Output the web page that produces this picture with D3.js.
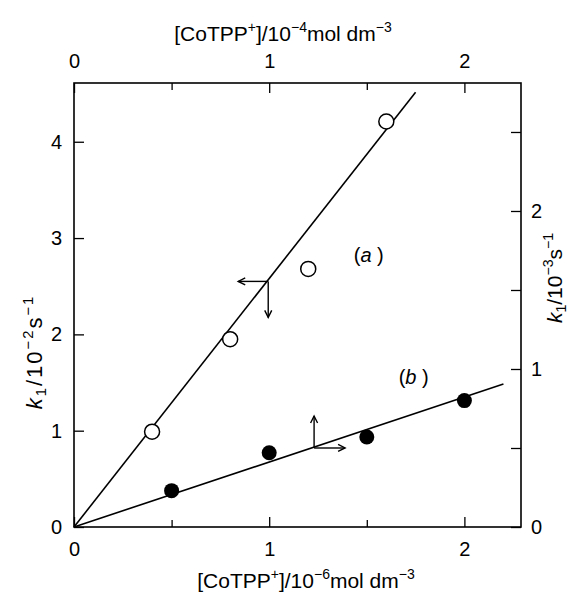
<!DOCTYPE html>
<html>
<head>
<meta charset="utf-8">
<script src="https://cdn.jsdelivr.net/npm/d3@7"></script>
<style>
  body { margin: 0; background: #fff; }
  svg text { font-family: "Liberation Sans", Arial, Helvetica, sans-serif; fill: #000; }
</style>
</head>
<body>
<svg id="chart" width="576" height="593"></svg>
<script>
// ---- data ----
// series (a): open circles, bottom axis (10^-6 mol dm^-3) vs left axis (10^-2 s^-1)
var concA = [0.4, 0.8, 1.2, 1.6];
var k1A = [0.99, 1.95, 2.68, 4.21];
// series (b): filled circles, top axis (10^-4 mol dm^-3) vs right axis (10^-3 s^-1)
var concB = [0.5, 1.0, 1.5, 2.0];
var k1B = [0.23, 0.47, 0.57, 0.80];
// fitted straight lines through the origin
var fitA = [[0, 0], [1.75, 4.515]];
var fitB = [[0, 0], [2.2, 0.905]];

var xTicks = [0, 0.5, 1, 1.5, 2];
var xLabels = [0, 1, 2];
var yLeftTicks = [0, 1, 2, 3, 4];
var yRightTicks = [0, 0.5, 1, 1.5, 2, 2.5];
var yRightLabels = [0, 1, 2];

// arrow corners (which axes each series belongs to)
var arrowA = [0.995, 2.55];  // bottom / left units
var arrowB = [1.23, 0.5];    // top / right units

/* ---- layout ---- */
var margin = { top: 83, right: 55, bottom: 66, left: 74 };
var W = 576, H = 593;
var w = W - margin.left - margin.right;
var h = H - margin.top - margin.bottom;

var svg = d3.select("#chart");
var g = svg.append("g").attr("transform", "translate(" + margin.left + "," + margin.top + ")");

var xBottom = d3.scaleLinear().domain([0, 2.29]).range([0, w]);
var xTop = d3.scaleLinear().domain([0, 2.29]).range([0, w]);
var yLeft = d3.scaleLinear().domain([0, 4.61]).range([h, 0]);
var yRight = d3.scaleLinear().domain([0, 2.81]).range([h, 0]);

function fmtX(d) { return xLabels.indexOf(d) >= 0 ? d : ""; }
function fmtR(d) { return yRightLabels.indexOf(d) >= 0 ? d : ""; }

function styleAxis(sel, minorLen) {
  sel.select(".domain").remove();
  sel.selectAll("line").attr("stroke", "#000").attr("stroke-width", 1.3);
  sel.selectAll("text").attr("font-size", 20).attr("fill", "#000");
  if (minorLen) {
    sel.selectAll(".tick").filter(function(d) { return d % 1 !== 0; })
      .select("line").each(function() {
        var l = d3.select(this);
        if (l.attr("y2") !== null && +l.attr("y2") !== 0) l.attr("y2", +l.attr("y2") > 0 ? minorLen : -minorLen);
      });
  }
}

g.append("g").attr("transform", "translate(0," + h + ")")
  .call(d3.axisBottom(xBottom).tickValues(xTicks).tickFormat(fmtX).tickSize(-10).tickPadding(15))
  .call(styleAxis, 7);

g.append("g")
  .call(d3.axisTop(xTop).tickValues(xTicks).tickFormat(fmtX).tickSize(-10).tickPadding(15))
  .call(styleAxis, 7);

g.append("g")
  .call(d3.axisLeft(yLeft).tickValues(yLeftTicks).tickFormat(d3.format("d")).tickSize(-10).tickPadding(12))
  .call(styleAxis);

g.append("g").attr("transform", "translate(" + w + ",0)")
  .call(d3.axisRight(yRight).tickValues(yRightTicks).tickFormat(fmtR).tickSize(-10).tickPadding(10))
  .call(styleAxis);

// frame
g.append("rect")
  .attr("width", w).attr("height", h)
  .attr("fill", "none").attr("stroke", "#000").attr("stroke-width", 1.6);

// fitted lines
var lineA = d3.line().x(function(d) { return xBottom(d[0]); }).y(function(d) { return yLeft(d[1]); });
var lineB = d3.line().x(function(d) { return xTop(d[0]); }).y(function(d) { return yRight(d[1]); });

g.append("path").attr("d", lineA(fitA)).attr("fill", "none").attr("stroke", "#000").attr("stroke-width", 1.6);
g.append("path").attr("d", lineB(fitB)).attr("fill", "none").attr("stroke", "#000").attr("stroke-width", 1.6);

// points
g.selectAll(".ptA").data(concA).enter().append("circle")
  .attr("class", "ptA")
  .attr("cx", function(d) { return xBottom(d); })
  .attr("cy", function(d, i) { return yLeft(k1A[i]); })
  .attr("r", 7.5)
  .attr("fill", "#fff").attr("stroke", "#000").attr("stroke-width", 1.5);

g.selectAll(".ptB").data(concB).enter().append("circle")
  .attr("class", "ptB")
  .attr("cx", function(d) { return xTop(d); })
  .attr("cy", function(d, i) { return yRight(k1B[i]); })
  .attr("r", 7.5)
  .attr("fill", "#000");

// arrows
function arrow(x0, y0, dx, dy) {
  var x1 = x0 + dx, y1 = y0 + dy;
  g.append("line").attr("x1", x0).attr("y1", y0).attr("x2", x1).attr("y2", y1)
    .attr("stroke", "#000").attr("stroke-width", 1.4);
  var len = Math.sqrt(dx * dx + dy * dy), ux = dx / len, uy = dy / len;
  var hl = 7, hw = 3.5;
  var p = [[x1 - ux * hl - uy * hw, y1 - uy * hl + ux * hw], [x1, y1], [x1 - ux * hl + uy * hw, y1 - uy * hl - ux * hw]];
  g.append("path").attr("d", d3.line()(p)).attr("fill", "none").attr("stroke", "#000").attr("stroke-width", 1.4);
}
var ax = xBottom(arrowA[0]), ay = yLeft(arrowA[1]);
arrow(ax, ay, -30, 0);
arrow(ax, ay, 0, 36);
var bx = xTop(arrowB[0]), by = yRight(arrowB[1]);
arrow(bx, by, 0, -32);
arrow(bx, by, 31, 0);

// series labels
function seriesLabel(x, y, letter) {
  var t = g.append("text").attr("x", x).attr("y", y).attr("font-size", 20).attr("text-anchor", "middle");
  t.append("tspan").text("(");
  t.append("tspan").attr("font-style", "italic").text(letter);
  t.append("tspan").text(" )");
}
seriesLabel(xTop(1.51), yRight(1.72) + 7, "a");
seriesLabel(xTop(1.74), yRight(0.95) + 7, "b");

// axis titles
function concTitle(x, y, exp) {
  var t = svg.append("text").attr("x", x).attr("y", y).attr("font-size", 21).attr("text-anchor", "middle");
  t.append("tspan").text("[CoTPP");
  t.append("tspan").attr("font-size", 14).attr("dy", -9).text("+");
  t.append("tspan").attr("dy", 9).text("]/10");
  t.append("tspan").attr("font-size", 14).attr("dy", -9).text(exp);
  t.append("tspan").attr("dy", 9).text("mol dm");
  t.append("tspan").attr("font-size", 14).attr("dy", -9).text("\u22123");
}
concTitle(306, 588, "\u22126");
concTitle(283, 41, "\u22124");

function kTitle(x, y, exp, size, spacing) {
  var t = svg.append("text").attr("transform", "translate(" + x + "," + y + ") rotate(-90)")
    .attr("font-size", size).attr("letter-spacing", spacing).attr("text-anchor", "middle");
  t.append("tspan").attr("font-style", "italic").text("k");
  t.append("tspan").attr("font-size", size * 0.67).attr("dy", 4).text("1");
  t.append("tspan").attr("dy", -4).text("/10");
  t.append("tspan").attr("font-size", size * 0.67).attr("dy", -9).text(exp);
  t.append("tspan").attr("dy", 9).text("s");
  t.append("tspan").attr("font-size", size * 0.67).attr("dy", -9).text("\u22121");
}
kTitle(42, 352, "\u22122", 22, 2);
kTitle(562, 278, "\u22123", 21, 0);
</script>
</body>
</html>
